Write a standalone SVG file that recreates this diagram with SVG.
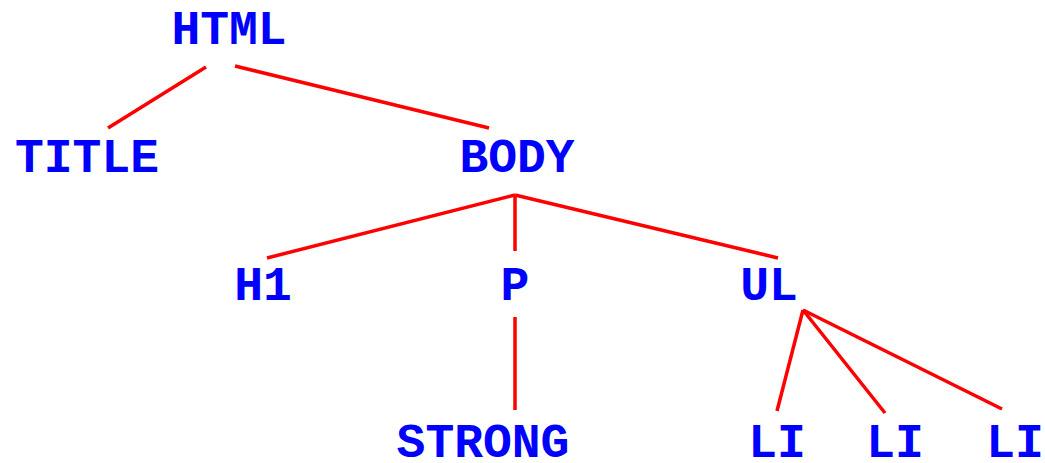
<svg xmlns="http://www.w3.org/2000/svg" width="1045" height="463" viewBox="0 0 1045 463">
<style>
.t{font-family:"Liberation Mono","Courier New",monospace;font-weight:bold;font-size:48px;fill:#0000ff;text-anchor:middle}
.e{stroke:#ff0000;stroke-width:3.5;fill:none}
</style>
<rect width="1045" height="463" fill="#ffffff"/>
<g id="connectors">
<line class="e" x1="206" y1="67" x2="108" y2="128"/>
<line class="e" x1="235" y1="66" x2="489" y2="128"/>
<line class="e" x1="515" y1="195" x2="267" y2="258"/>
<line class="e" x1="515" y1="195" x2="515" y2="251"/>
<line class="e" x1="515" y1="195" x2="778" y2="258"/>
<line class="e" x1="515" y1="317" x2="515" y2="410"/>
<line class="e" x1="803" y1="310" x2="777" y2="411"/>
<line class="e" x1="803" y1="310" x2="885" y2="413"/>
<line class="e" x1="803" y1="310" x2="1002" y2="409"/>
</g>
<g id="html"><text class="t" x="229" y="44">HTML</text></g>
<g id="title"><text class="t" x="87" y="172">TITLE</text></g>
<g id="body"><text class="t" x="517" y="172">BODY</text></g>
<g id="h1"><text class="t" x="263" y="300">H1</text></g>
<g id="p"><text class="t" x="515" y="300">P</text></g>
<g id="ul"><text class="t" x="769" y="300">UL</text></g>
<g id="strong"><text class="t" x="483" y="457">STRONG</text></g>
<g id="li1"><text class="t" x="777" y="457">LI</text></g>
<g id="li2"><text class="t" x="895" y="457">LI</text></g>
<g id="li3"><text class="t" x="1015" y="457">LI</text></g>
</svg>
